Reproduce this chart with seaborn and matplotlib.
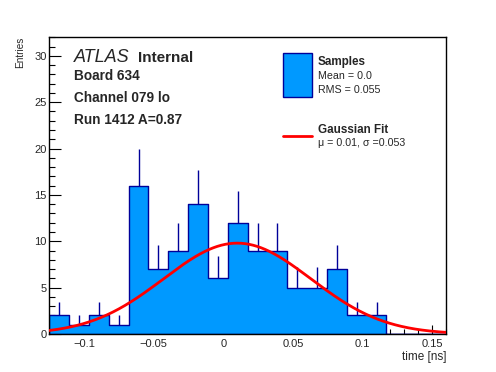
import numpy as np
import pandas as pd
import matplotlib
matplotlib.use("Agg")
import matplotlib.pyplot as plt
import seaborn as sns
from matplotlib.ticker import MultipleLocator
from matplotlib.patches import Rectangle
from matplotlib.lines import Line2D

# ---- data ----
bin_lo = -0.125
bin_hi = 0.16
n_bins = 20
counts = [2, 1, 2, 1, 16, 7, 9, 14, 6, 12, 9, 9, 5, 5, 7, 2, 2, 0, 0, 0]
fit_amp = 9.8
fit_mu = 0.01
fit_sigma = 0.053
xticks = [-0.1, -0.05, 0, 0.05, 0.1, 0.15]
xtick_labels = ["\u22120.1", "\u22120.05", "0", "0.05", "0.1", "0.15"]
yticks = [0, 5, 10, 15, 20, 25, 30]
header_lines = ["Board 634", "Channel 079 lo", "Run 1412 A=0.87"]
legend_hist = ("Samples", "Mean = 0.0", "RMS = 0.055")
legend_fit = ("Gaussian Fit", "\u03bc = 0.01, \u03c3 =0.053")

fill_c = "#0099ff"
edge_c = "#000099"
red_c = "#ff0000"

sns.set_style("ticks")
plt.rcParams["font.family"] = ["Liberation Sans", "DejaVu Sans"]

W, H = 496, 372
fig = plt.figure(figsize=(W / 100, H / 100), dpi=100)
L, R, T, B = 49.3, 446, 37.3, 334
ax = fig.add_axes([L / W, 1 - B / H, (R - L) / W, (B - T) / H])

edges = np.linspace(bin_lo, bin_hi, n_bins + 1)
centers = 0.5 * (edges[:-1] + edges[1:])
df = pd.DataFrame({"t": centers, "n": counts})

sns.histplot(data=df, x="t", weights="n", bins=n_bins, binrange=(bin_lo, bin_hi),
             element="step", fill=True,
             color=fill_c, alpha=1.0, edgecolor=edge_c, linewidth=1.0, ax=ax)

# error bars (upper half visible)
cnt = np.array(counts, dtype=float)
mask = cnt > 0
ax.vlines(centers[mask], cnt[mask], cnt[mask] + np.sqrt(cnt[mask]),
          color=edge_c, linewidth=1.0, zorder=3)

# gaussian fit
xf = np.linspace(bin_lo, bin_hi, 400)
yf = fit_amp * np.exp(-0.5 * ((xf - fit_mu) / fit_sigma) ** 2)
sns.lineplot(x=xf, y=yf, color=red_c, linewidth=2.0, ax=ax, zorder=4)

ax.set_xlim(bin_lo, bin_hi)
ax.set_ylim(0, 32)
ax.set_xticks(xticks)
ax.set_xticklabels(xtick_labels)
ax.set_yticks(yticks)
ax.xaxis.set_minor_locator(MultipleLocator(0.01))
ax.yaxis.set_minor_locator(MultipleLocator(1))
ax.tick_params(which="both", direction="in", top=False, right=False,
               labelsize=8, color="black")
ax.tick_params(axis="x", which="major", length=6.5, width=0.8, pad=3.5)
ax.tick_params(axis="x", which="minor", length=3.3, width=0.8)
ax.tick_params(axis="y", which="major", length=8.6, width=0.8, pad=2)
ax.tick_params(axis="y", which="minor", length=4.3, width=0.8)
for s in ax.spines.values():
    s.set_visible(True)
    s.set_linewidth(1.0)
    s.set_color("black")

ax.set_xlabel("time [ns]", loc="right", fontsize=8.5, labelpad=1.5)
ax.set_ylabel("Entries", loc="top", fontsize=7.2, labelpad=7)
ax.yaxis.set_label_coords(-0.062, 1.003)

def ft(x, y, s, **kw):
    fig.text(x / W, 1 - y / H, s, va="baseline", ha="left", **kw)

ft(74, 61.7, "ATLAS", fontsize=13, fontstyle="italic")
ft(138, 61.7, "Internal", fontsize=11, fontweight="bold")
for i, line in enumerate(header_lines):
    ft(74, 80 + 22 * i, line, fontsize=9.8, fontweight="bold")

# legend
fig.patches.append(Rectangle((283 / W, 1 - 96.7 / H), 28.7 / W, 43.4 / H,
                             transform=fig.transFigure, facecolor=fill_c,
                             edgecolor=edge_c, linewidth=1.0))
fig.lines.append(Line2D([283 / W, 311.7 / W], [1 - 135.7 / H, 1 - 135.7 / H],
                        transform=fig.transFigure, color=red_c, linewidth=2.0))
ft(317.7, 65, legend_hist[0], fontsize=8.4, fontweight="bold")
ft(317.7, 79.3, legend_hist[1], fontsize=7.7)
ft(317.7, 93.3, legend_hist[2], fontsize=7.7)
ft(317.7, 133.3, legend_fit[0], fontsize=8.4, fontweight="bold")
ft(317.7, 146, legend_fit[1], fontsize=7.7)

fig.savefig("out.png", dpi=100, facecolor="white")
